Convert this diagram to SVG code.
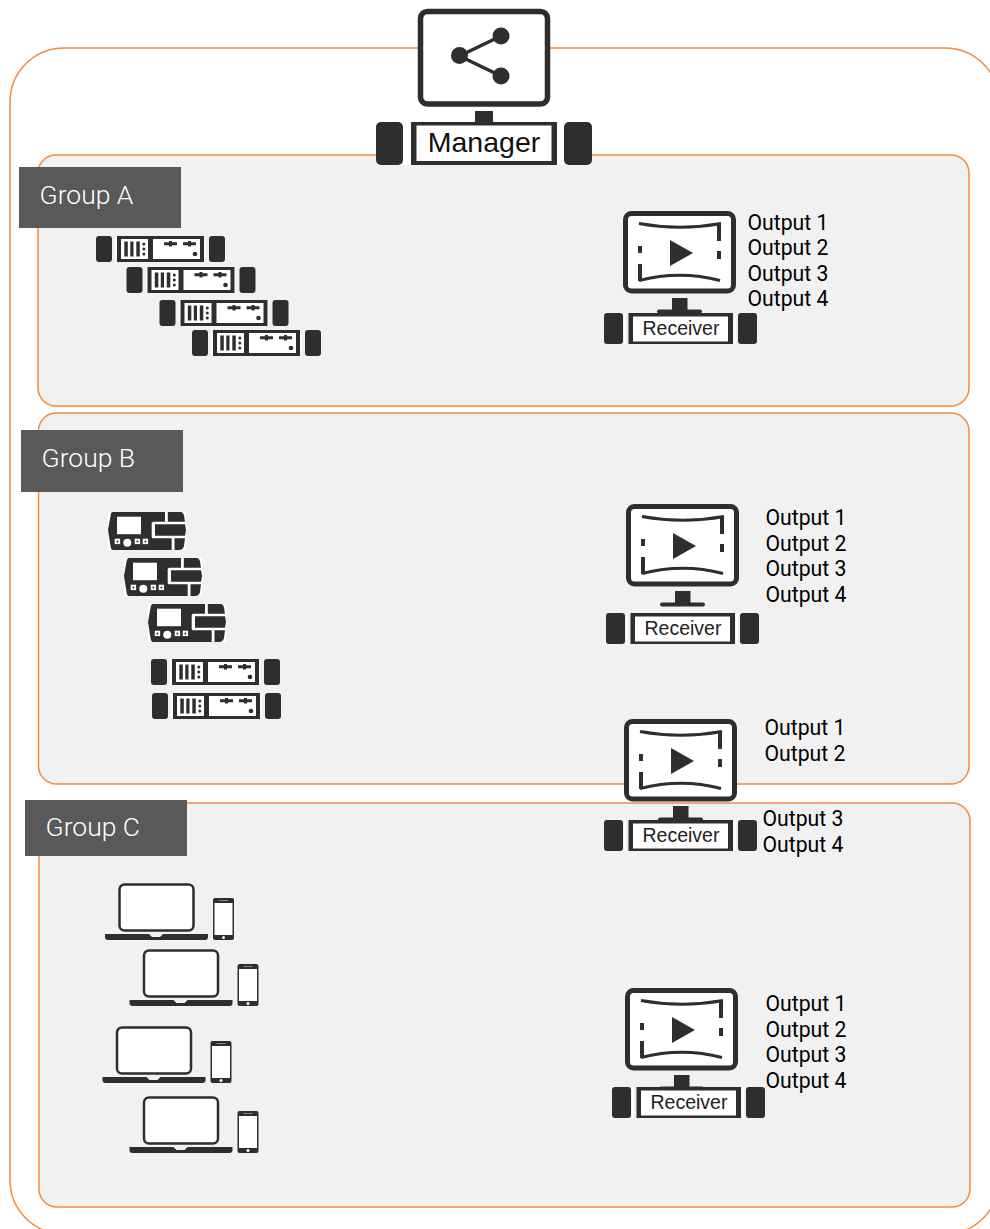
<svg xmlns="http://www.w3.org/2000/svg" xmlns:xlink="http://www.w3.org/1999/xlink" width="990" height="1229" viewBox="0 0 990 1229">
<style>
.panel{fill:#f1f1f1;stroke:#f58a3c;stroke-width:1.5}
.tag{fill:#595959}
.tagt{font-family:"Roboto","Liberation Sans",sans-serif;font-weight:300;font-size:26.500px;fill:#fff}
.out{font-family:"Roboto","Liberation Sans",sans-serif;font-size:21.200px;fill:#000}
.lab{font-family:"Liberation Sans",Arial,sans-serif;fill:#222;text-anchor:middle}
.d{fill:#2e2e2e}
.w{fill:#fff}
.ln{fill:none;stroke:#2e2e2e;stroke-width:3}
.ln4{fill:none;stroke:#2e2e2e;stroke-width:4}
</style>
<defs>
<g id="mon">
<rect x="625.500" y="213.500" width="108" height="77.500" rx="6" fill="#fff" stroke="#2e2e2e" stroke-width="5"/>
<path class="ln" d="M639 223.500Q680 231 721 223.500M639 280.500Q680 270 720 280.500"/>
<path class="ln4" d="M719 223V241M640 246V253M719 251V259M640 264V281"/>
<path class="d" d="M670 240V266L693 253Z"/>
<rect class="d" x="672" y="298" width="15.500" height="13"/>
<rect class="d" x="657" y="309.500" width="45" height="4" rx="2"/>
</g>
<g id="bar">
<rect class="d" x="604" y="313" width="19" height="31" rx="3"/>
<rect class="d" x="738" y="313" width="19" height="31" rx="3"/>
<rect class="w" x="624" y="313" width="2" height="31"/>
<rect class="w" x="734" y="313" width="2" height="31"/>
<rect class="d" x="628.500" y="313" width="104.500" height="31"/>
<rect class="w" x="633" y="316.500" width="95" height="25"/>
<text class="lab" x="681" y="335" font-size="19.500">Receiver</text>
</g>
<g id="srv">
<rect class="d" x="0" y="0" width="16" height="26" rx="3"/>
<rect class="d" x="113" y="0" width="16" height="26" rx="3"/>
<rect class="w" x="19.500" y="0" width="1.500" height="26"/>
<rect class="w" x="107.500" y="0" width="1.500" height="26"/>
<rect class="d" x="21" y="0" width="87" height="26"/>
<rect class="w" x="25" y="3" width="27" height="20"/>
<rect class="w" x="57" y="3" width="47" height="20"/>
<path class="d" d="M28.300 5.500h3.500v15h-3.500zM34.300 5.500h3.200v15h-3.200zM40.300 5.500h3.500v15h-3.500z"/>
<circle class="d" cx="47.800" cy="8" r="1.500"/><circle class="d" cx="47.800" cy="13" r="1.500"/><circle class="d" cx="47.800" cy="18" r="1.500"/>
<path class="d" d="M68 6.300h13v3h-13zM73 5h3v5.500h-3zM87 6.300h13v3h-13zM92 5h3v5.500h-3z"/>
<circle class="d" cx="99" cy="18" r="2.300"/>
</g>
<g id="enc">
<rect class="w" x="0" y="0" width="78" height="38"/>
<path class="d" d="M5 0H73Q75 0 76 3L78 18L76 34Q75 38 71 38H5Q3 38 2.500 34L0 18L2.500 4Q3 0 5 0Z"/>
<rect class="w" x="57" y="0" width="2.800" height="11"/>
<rect class="w" x="63.700" y="26" width="2.800" height="12"/>
<rect class="w" x="43.700" y="9.700" width="34.300" height="16.600" rx="1.500"/>
<path class="d" d="M47 12.300H77L78 18L77 23.700H47Z"/>
<rect class="w" x="9" y="4.700" width="24" height="17.500"/>
<rect class="w" x="6.700" y="26.700" width="5.400" height="5.400"/><rect class="w" x="26.700" y="26.700" width="5.400" height="5.400"/><rect class="w" x="34.700" y="26.700" width="5.400" height="5.400"/>
<circle class="w" cx="19.300" cy="30.700" r="4"/>
<circle class="d" cx="9.400" cy="29.400" r="1"/><circle class="d" cx="29.400" cy="29.400" r="1"/><circle class="d" cx="37.400" cy="29.400" r="1"/>
</g>
<g id="lap">
<rect x="14.500" y="1.500" width="74" height="46" rx="5" fill="#fff" stroke="#2e2e2e" stroke-width="2.500"/>
<path class="d" d="M0 51H44L47 54H55L58 51H103V54Q103 57 100 57H3Q0 57 0 54Z"/>
<rect class="d" x="108" y="15" width="21" height="42" rx="2"/>
<rect class="w" x="109.500" y="20" width="18" height="32"/>
<rect fill="#888" x="114" y="17" width="9" height="1"/>
<circle class="w" cx="118.500" cy="54.500" r="1.500"/>
</g>
</defs>

<rect id="outer" x="10" y="48" width="989" height="1186" rx="54" fill="#fff" stroke="#f58a3c" stroke-width="1.500"/>
<rect class="panel" x="38" y="155" width="931" height="251" rx="18"/>
<rect class="panel" x="38.500" y="413" width="930.500" height="371" rx="18"/>
<rect class="panel" x="39" y="803" width="931" height="404" rx="18"/>

<g id="connectors"/>

<g id="manager">
<rect x="420.500" y="11.500" width="127" height="92.500" rx="7" fill="#fff" stroke="#2e2e2e" stroke-width="5.500"/>
<path d="M501 36L459.500 56L501 76" fill="none" stroke="#2e2e2e" stroke-width="3.500"/>
<circle class="d" cx="459.500" cy="55.500" r="8.500"/><circle class="d" cx="501" cy="36" r="8.500"/><circle class="d" cx="501" cy="76" r="8.500"/>
<rect class="d" x="475" y="111" width="18" height="12"/>
<rect class="d" x="376" y="122" width="27" height="43" rx="5"/>
<rect class="d" x="564" y="122" width="28" height="43" rx="5"/>
<rect class="w" x="403" y="122" width="8" height="43"/>
<rect class="w" x="557" y="122" width="7" height="43"/>
<rect class="d" x="411" y="122" width="146" height="43"/>
<rect class="w" x="416.500" y="125.500" width="135" height="35.500"/>
<text class="lab" x="484" y="152" font-size="28.500" style="fill:#111">Manager</text>
</g>

<g id="group-a">
<rect class="tag" x="19" y="167" width="162" height="61"/>
<text class="tagt" x="39.500" y="204">Group A</text>
<use href="#srv" x="96" y="236"/><use href="#srv" x="126.500" y="267"/><use href="#srv" x="159.500" y="300"/><use href="#srv" x="192" y="330"/>
</g>
<g id="receiver-a">
<use href="#mon"/><use href="#bar"/>
<text class="out" x="747.500" y="230">Output 1</text><text class="out" x="747.500" y="255">Output 2</text><text class="out" x="747.500" y="281">Output 3</text><text class="out" x="747.500" y="306">Output 4</text>
</g>

<g id="group-b">
<rect class="tag" x="21" y="430" width="162" height="62"/>
<text class="tagt" x="41.500" y="467">Group B</text>
<use href="#enc" x="108" y="512"/><use href="#enc" x="124" y="558"/><use href="#enc" x="148" y="604"/>
<use href="#srv" x="151" y="659"/><use href="#srv" x="152" y="693"/>
</g>
<g id="receiver-b1">
<use href="#mon" x="3" y="293"/><use href="#bar" x="2" y="300"/>
<text class="out" x="765.500" y="525">Output 1</text><text class="out" x="765.500" y="551">Output 2</text><text class="out" x="765.500" y="576">Output 3</text><text class="out" x="765.500" y="602">Output 4</text>
</g>

<g id="group-c">
<rect class="tag" x="25" y="800" width="162" height="56"/>
<text class="tagt" x="45.500" y="836">Group C</text>
<use href="#lap" x="105" y="883"/><use href="#lap" x="129.500" y="949"/><use href="#lap" x="102.500" y="1026"/><use href="#lap" x="129.500" y="1096"/>
</g>
<g id="receiver-b2">
<use href="#mon" x="1" y="508"/><use href="#bar" x="0" y="507"/>
<text class="out" x="764.500" y="735">Output 1</text><text class="out" x="764.500" y="761">Output 2</text><text class="out" x="762.500" y="826">Output 3</text><text class="out" x="762.500" y="852">Output 4</text>
</g>
<g id="receiver-c">
<use href="#mon" x="2" y="777"/><use href="#bar" x="8" y="774"/>
<text class="out" x="765.500" y="1011">Output 1</text><text class="out" x="765.500" y="1037">Output 2</text><text class="out" x="765.500" y="1062">Output 3</text><text class="out" x="765.500" y="1088">Output 4</text>
</g>
</svg>
